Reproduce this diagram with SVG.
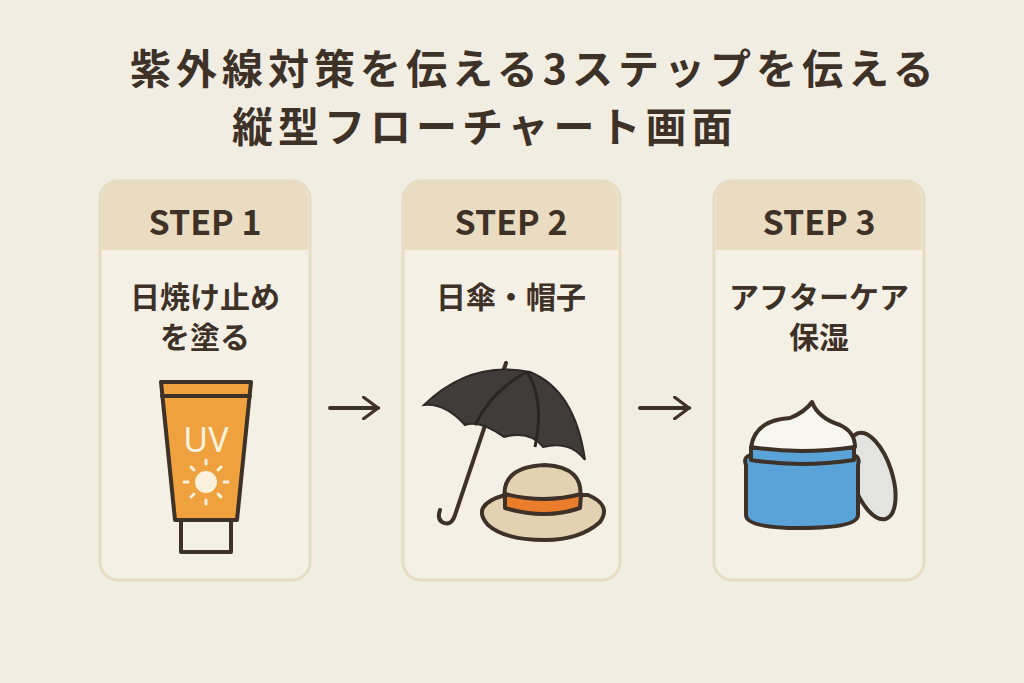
<svg xmlns="http://www.w3.org/2000/svg" width="1024" height="683" viewBox="0 0 1024 683">
<style>
.t{font-family:"Noto Sans CJK JP","Noto Sans",sans-serif;font-weight:700;fill:#3e3128}
.card{fill:#f5f0e6;stroke:#e6dcc4;stroke-width:3}
.hd{fill:#e9dcc1}
.ln{stroke:#3e3128;stroke-width:4;stroke-linecap:round;stroke-linejoin:round}
</style>
<defs><marker id="ah" viewBox="0 0 10 10" refX="8" refY="5" markerWidth="6" markerHeight="6" orient="auto"><path d="M2,0.5 L8,5 L2,9.5" fill="none" stroke="#3e3128" stroke-width="1.3" stroke-linecap="round"/></marker></defs>
<rect width="1024" height="683" fill="#f2ede3"/>
<text class="t" x="130" y="84" font-size="41" letter-spacing="5">紫外線対策を伝える3ステップを伝える</text>
<text class="t" x="232" y="142" font-size="41" letter-spacing="5">縦型フローチャート画面</text>
<g id="step1">
<rect class="card" x="100" y="181" width="210" height="399" rx="18"/>
<path class="hd" d="M101.5,250 V199 a17,17 0 0 1 17,-17 H291 a17,17 0 0 1 17,17 V250 Z"/>
<text class="t" x="205" y="235" font-size="34" text-anchor="middle">STEP 1</text>
<text class="t" x="205" y="308" font-size="30" text-anchor="middle">日焼け止め</text>
<text class="t" x="205" y="348" font-size="30" text-anchor="middle">を塗る</text>
<path d="M181,520 H231 V552 H181 Z" fill="#f5f0e6" class="ln"/>
<path d="M161,382 H251 L237,520 H175 Z" fill="#efa13e" class="ln"/>
<line x1="162" y1="396" x2="250" y2="396" class="ln" stroke-width="3"/>
<text x="206" y="452" font-family="Noto Sans,sans-serif" font-size="34" fill="#fbf1dc" text-anchor="middle">UV</text>
<g stroke="#fbf1dc" stroke-width="3" stroke-linecap="round">
<circle cx="206" cy="482" r="11" fill="#fbf1dc" stroke="none"/>
<line x1="206" y1="460" x2="206" y2="464"/><line x1="206" y1="500" x2="206" y2="504"/>
<line x1="184" y1="482" x2="188" y2="482"/><line x1="224" y1="482" x2="228" y2="482"/>
<line x1="191" y1="467" x2="194" y2="470"/><line x1="218" y1="494" x2="221" y2="497"/>
<line x1="221" y1="467" x2="218" y2="470"/><line x1="194" y1="494" x2="191" y2="497"/>
</g>
</g>
<g id="step2">
<rect class="card" x="403" y="181" width="217" height="399" rx="18"/>
<path class="hd" d="M404.5,250 V199 a17,17 0 0 1 17,-17 H601 a17,17 0 0 1 17,17 V250 Z"/>
<text class="t" x="511" y="235" font-size="34" text-anchor="middle">STEP 2</text>
<text class="t" x="511" y="308" font-size="30" text-anchor="middle">日傘・帽子</text>
<path d="M506,363 L455,515 q-4,12 -13,7 q-5,-3 -2,-12" fill="none" class="ln"/>
<path d="M424,405 Q470,360 530,372 Q575,390 585,460 Q570,440 543,447 Q530,430 504,437 Q480,420 465,425 Q445,403 424,405 Z" fill="#3f3c39" stroke="#2e2a27" stroke-width="2"/>
<path d="M527,372 Q492,390 475,425 M527,372 Q545,400 535,447" fill="none" stroke="#2a2624" stroke-width="3"/>
<path d="M488,525 Q470,505 505,495 L588,495 Q612,505 600,522 Q580,540 545,540 Q505,540 488,525 Z" fill="#e3d2b2" class="ln"/>
<path d="M505,500 Q500,467 545,465 Q585,467 580,500 Q545,510 505,500 Z" fill="#e3d2b2" class="ln"/>
<path d="M505,494 Q545,504 581,494 L580,508 Q545,520 505,508 Z" fill="#ea7d2c" class="ln" stroke-width="3"/>
</g>
<g id="step3">
<rect class="card" x="714" y="181" width="210" height="399" rx="18"/>
<path class="hd" d="M715.5,250 V199 a17,17 0 0 1 17,-17 H905 a17,17 0 0 1 17,17 V250 Z"/>
<text class="t" x="819" y="235" font-size="34" text-anchor="middle">STEP 3</text>
<text class="t" x="819" y="308" font-size="30" text-anchor="middle">アフターケア</text>
<text class="t" x="819" y="348" font-size="30" text-anchor="middle">保湿</text>
<ellipse cx="872" cy="476" rx="20" ry="45" transform="rotate(-18 872 476)" fill="#e3e3df" class="ln"/>
<path d="M746,465 Q742,455 755,455 H850 Q861,455 858,465 V515 Q858,528 800,528 Q746,528 746,515 Z" fill="#5aa3d8" class="ln"/>
<path d="M751,448 H854 V460 Q800,468 751,460 Z" fill="#5aa3d8" class="ln"/>
<path d="M751,447 Q755,420 790,418 Q805,412 812,402 Q818,418 840,425 Q855,432 855,447 Q800,455 751,447 Z" fill="#f8f6f0" class="ln"/>
</g>
<g id="connectors" fill="none" stroke="#3e3128" stroke-width="4" stroke-linecap="round">
<line x1="330" y1="408" x2="378" y2="408" marker-end="url(#ah)"/>
<line x1="640" y1="408" x2="689" y2="408" marker-end="url(#ah)"/>
</g>
</svg>
